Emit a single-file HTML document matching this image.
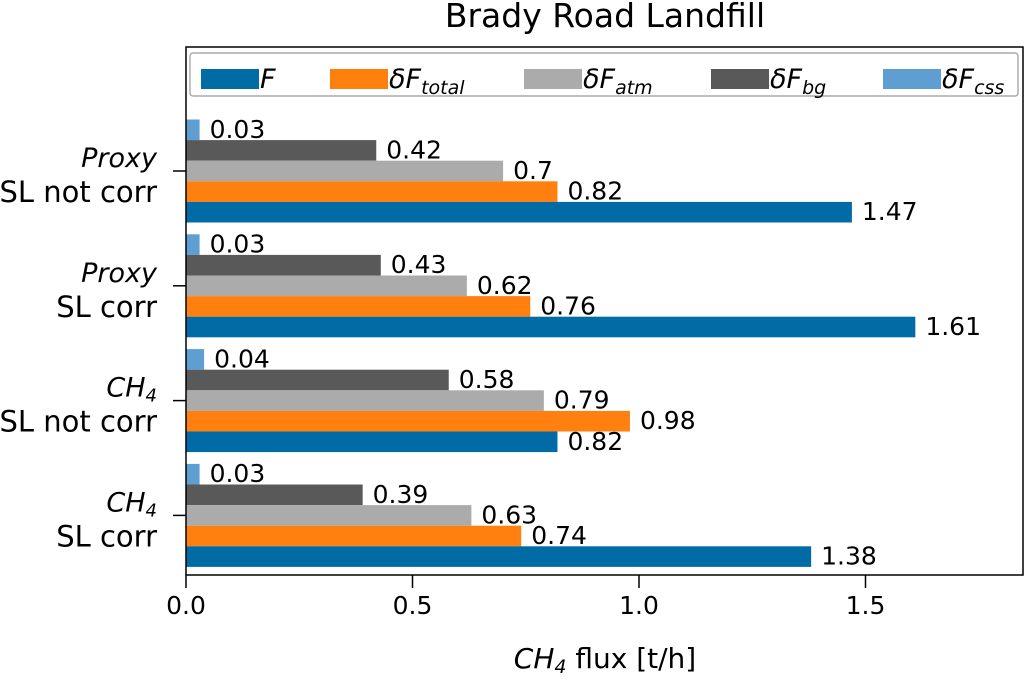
<!DOCTYPE html>
<html><head><meta charset="utf-8"><style>
body{margin:0;background:#fff;}
svg text{font-family:"DejaVu Sans","Liberation Sans",sans-serif;fill:#000;}
</style></head><body>
<svg id="chart" width="1026" height="676" xmlns="http://www.w3.org/2000/svg">
<text x="605" y="27" font-size="33" text-anchor="middle">Brady Road Landfill</text>
<g id="plot"></g>
<rect x="186" y="47" width="837" height="528" fill="none" stroke="#000" stroke-width="1.5"/>
<text x="605" y="668" font-size="28" text-anchor="middle"><tspan font-style="italic">CH</tspan><tspan font-style="italic" font-size="19" dy="5">4</tspan><tspan dy="-5"> flux [t/h]</tspan></text>
<g>
<rect x="190" y="53" width="828" height="43" fill="#fff" stroke="#999" stroke-width="1.2" rx="3"/>
</g>
</svg>
<script>
const categories=[["Proxy","SL not corr"],["Proxy","SL corr"],["CH4","SL not corr"],["CH4","SL corr"]];
const seriesF=[1.47,1.61,0.82,1.38];
const seriesTotal=[0.82,0.76,0.98,0.74];
const seriesAtm=[0.7,0.62,0.79,0.63];
const seriesBg=[0.42,0.43,0.58,0.39];
const seriesCss=[0.03,0.03,0.04,0.03];
const xTicks=[0,0.5,1.0,1.5];
const xTickLabels=["0.0","0.5","1.0","1.5"];

const NS="http://www.w3.org/2000/svg";
const svg=document.getElementById('chart');
const plot=document.getElementById('plot');
const X0=186,PX=453;
const xs=v=>X0+v*PX;
const groupCenter=i=>171+i*114.8;
const BH=20.6;
function mk(tag,attrs,parent){const e=document.createElementNS(NS,tag);for(const k in attrs)e.setAttribute(k,attrs[k]);(parent||plot).appendChild(e);return e;}
const series=[
 {vals:seriesCss,color:"#5F9ED1",name:"css"},
 {vals:seriesBg,color:"#595959",name:"bg"},
 {vals:seriesAtm,color:"#ABABAB",name:"atm"},
 {vals:seriesTotal,color:"#FF800E",name:"total"},
 {vals:seriesF,color:"#006BA4",name:"f"}];
categories.forEach((c,i)=>{
  const gc=groupCenter(i);
  series.forEach((s,j)=>{
    const y=gc-2.5*BH+j*BH;
    const r=mk('rect',{x:X0,y:y,width:xs(s.vals[i])-X0,height:BH,fill:s.color});
    
    
    const t=mk('text',{x:xs(s.vals[i])+10,y:y+BH/2+8,'font-size':'25'});
    t.textContent=String(s.vals[i]);
    
    
  });
  mk('line',{x1:173,x2:186,y1:gc,y2:gc,stroke:'#000','stroke-width':1.5});
  const t1=mk('text',{x:157,y:gc-4,'font-size':'27','text-anchor':'end','font-style':'italic'});
  if(c[0]==="CH4"){t1.innerHTML='CH<tspan font-size="18" dy="5">4</tspan>';}else t1.textContent=c[0];
  
  
  const t2=mk('text',{x:157,y:gc+31,'font-size':'29','text-anchor':'end'});
  t2.textContent=c[1];
  
  
});
xTicks.forEach((v,i)=>{
  mk('line',{x1:xs(v),x2:xs(v),y1:575,y2:588,stroke:'#000','stroke-width':1.5});
  const t=mk('text',{x:xs(v),y:614,'font-size':'25','text-anchor':'middle'});
  t.textContent=xTickLabels[i];
  
  
});
const leg=[
 {c:"#006BA4",x:201,h:'<tspan font-style="italic">F</tspan>'},
 {c:"#FF800E",x:330,h:'<tspan font-style="italic">δF</tspan><tspan font-style="italic" font-size="19" dy="6">total</tspan>'},
 {c:"#ABABAB",x:524,h:'<tspan font-style="italic">δF</tspan><tspan font-style="italic" font-size="19" dy="6">atm</tspan>'},
 {c:"#595959",x:711,h:'<tspan font-style="italic">δF</tspan><tspan font-style="italic" font-size="19" dy="6">bg</tspan>'},
 {c:"#5F9ED1",x:883,h:'<tspan font-style="italic">δF</tspan><tspan font-style="italic" font-size="19" dy="6">css</tspan>'}];
leg.forEach(l=>{
  const r=mk('rect',{x:l.x,y:69,width:58,height:20,fill:l.c},svg);
  
  
  const t=mk('text',{x:l.x+59,y:88,'font-size':'27'},svg);
  t.innerHTML=l.h;
  
  
});
</script>
</body></html>
